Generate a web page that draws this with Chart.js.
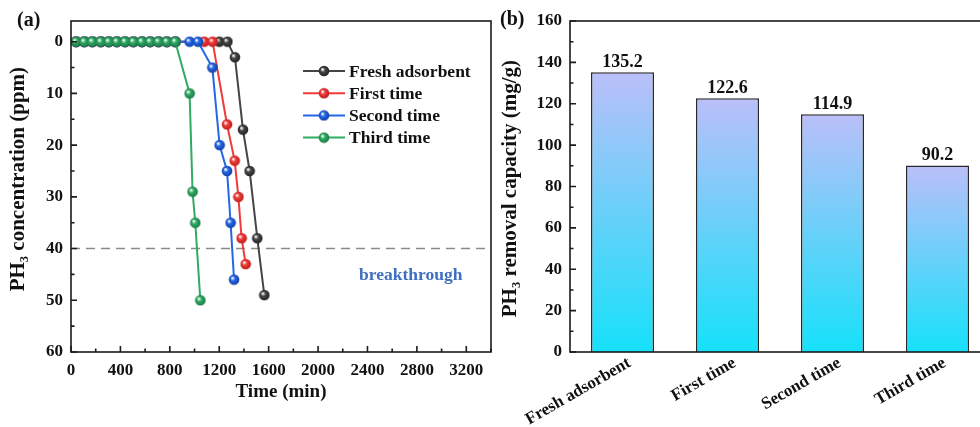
<!DOCTYPE html>
<html>
<head>
<meta charset="utf-8">
<script src="https://cdn.jsdelivr.net/npm/chart.js@4.4.1/dist/chart.umd.min.js"></script>
<style>
  html, body { margin: 0; padding: 0; background: #fff; }
  body { width: 980px; height: 427px; overflow: hidden; position: relative; }
  canvas { position: absolute; top: 0; }
  #chartA { left: 0; }
  #chartB { left: 495px; }
</style>
</head>
<body>
<canvas id="chartA" width="499" height="427"></canvas>
<canvas id="chartB" width="505" height="427"></canvas>
<script>
// panel (a) - breakthrough curves
const leadTime = [41, 108, 173, 241, 306, 371, 438, 505, 574, 641, 708, 776, 844];
const leadConc = [0, 0, 0, 0, 0, 0, 0, 0, 0, 0, 0, 0, 0];
const freshTime = [1201, 1266, 1327, 1392, 1446, 1508, 1565];
const freshConc = [0, 0, 3, 17, 25, 38, 49];
const firstTime = [1079, 1146, 1263, 1325, 1355, 1381, 1414];
const firstConc = [0, 0, 16, 23, 30, 38, 43];
const secondTime = [960, 1028, 1144, 1203, 1263, 1292, 1320];
const secondConc = [0, 0, 5, 20, 25, 35, 46];
const thirdTime = [960, 984, 1006, 1047];
const thirdConc = [10, 29, 35, 50];
const breakLevel = 40;

// panel (b) - removal capacity
const capLabels = ['Fresh adsorbent', 'First time', 'Second time', 'Third time'];
const capValues = [135.2, 122.6, 114.9, 90.2];

const serif = "'Liberation Serif', 'Times New Roman', serif";
const ink = '#111';
Chart.defaults.font.family = serif;
Chart.defaults.font.weight = 'bold';
Chart.defaults.color = ink;

function pts(t, c) {
  return t.map((x, i) => ({ x: x, y: c[i] }));
}

// little shaded ball used as the point marker
function ball(color, dark) {
  const c = document.createElement('canvas');
  c.width = 12; c.height = 12;
  const g = c.getContext('2d');
  const grad = g.createRadialGradient(4.3, 4.3, 0.4, 6, 6, 6);
  grad.addColorStop(0, '#ffffff');
  grad.addColorStop(0.35, color);
  grad.addColorStop(1, dark);
  g.fillStyle = grad;
  g.beginPath();
  g.arc(6, 6, 5.3, 0, Math.PI * 2);
  g.fill();
  return c;
}

const series = [
  { label: 'Fresh adsorbent', t: leadTime.concat(freshTime), c: leadConc.concat(freshConc), color: '#454545', dark: '#1e1e1e', order: 4 },
  { label: 'First time', t: leadTime.concat(firstTime), c: leadConc.concat(firstConc), color: '#f03a3a', dark: '#b51818', order: 3 },
  { label: 'Second time', t: leadTime.concat(secondTime), c: leadConc.concat(secondConc), color: '#2467e6', dark: '#10399a', order: 2 },
  { label: 'Third time', t: leadTime.concat(thirdTime), c: leadConc.concat(thirdConc), color: '#2fab62', dark: '#187040', order: 1 }
];

const lineSets = series.map(s => ({
  label: s.label,
  data: pts(s.t, s.c),
  borderColor: s.color,
  backgroundColor: s.color,
  borderWidth: 2,
  pointStyle: ball(s.color, s.dark),
  pointRadius: 6,
  order: s.order
}));
lineSets.push({
  label: 'limit',
  data: [{ x: 0, y: breakLevel }, { x: 3400, y: breakLevel }],
  borderColor: '#8a8a8a',
  borderWidth: 1.6,
  borderDash: [9, 6],
  pointRadius: 0,
  order: 9
});

// box round the plot plus inward ticks
const framePlugin = {
  id: 'frame',
  afterDraw(chart, args, opts) {
    const { ctx, chartArea: a, scales } = chart;
    ctx.save();
    ctx.strokeStyle = '#1b1b1b';
    ctx.lineWidth = 1.6;
    ctx.strokeRect(a.left, a.top, a.right - a.left, a.bottom - a.top);
    ctx.beginPath();
    if (opts.xStep) {
      for (let v = 0; v <= opts.xMax; v += opts.xStep) {
        const px = scales.x.getPixelForValue(v);
        const len = v % opts.xMajor === 0 ? 6 : 3.5;
        ctx.moveTo(px, a.bottom);
        ctx.lineTo(px, a.bottom - len);
      }
    }
    for (let v = 0; v <= opts.yMax; v += opts.yStep) {
      const py = scales.y.getPixelForValue(v);
      const len = v % opts.yMajor === 0 ? 6 : 3.5;
      ctx.moveTo(a.left, py);
      ctx.lineTo(a.left + len, py);
    }
    ctx.stroke();
    ctx.fillStyle = ink;
    ctx.font = 'bold 20px ' + serif;
    ctx.textBaseline = 'middle';
    ctx.textAlign = 'left';
    ctx.fillText(opts.tag, opts.tagX, opts.tagY);
    ctx.restore();
  }
};

const legendPlugin = {
  id: 'boxLegend',
  afterDraw(chart) {
    const { ctx } = chart;
    ctx.save();
    ctx.font = 'bold 17.5px ' + serif;
    ctx.textBaseline = 'middle';
    ctx.textAlign = 'left';
    series.forEach((s, i) => {
      const y = 71 + i * 22.2;
      ctx.strokeStyle = s.color;
      ctx.lineWidth = 2;
      ctx.beginPath();
      ctx.moveTo(303, y);
      ctx.lineTo(345, y);
      ctx.stroke();
      ctx.drawImage(lineSets[i].pointStyle, 318, y - 6);
      ctx.fillStyle = ink;
      ctx.fillText(s.label, 349, y + 1);
    });
    const x = chart.scales.x.getPixelForValue(2750);
    const y = chart.scales.y.getPixelForValue(45.3);
    ctx.fillStyle = '#3f6fbf';
    ctx.textAlign = 'center';
    ctx.fillText('breakthrough', x, y);
    ctx.restore();
  }
};

new Chart(document.getElementById('chartA'), {
  type: 'line',
  data: { datasets: lineSets },
  options: {
    responsive: false,
    animation: false,
    devicePixelRatio: 1,
    layout: { padding: { top: 21, right: 8, left: 0, bottom: 0 } },
    plugins: {
      legend: { display: false },
      tooltip: { enabled: false },
      frame: { xStep: 200, xMajor: 400, xMax: 3400, yStep: 5, yMajor: 10, yMax: 60, tag: '(a)', tagX: 17, tagY: 21 }
    },
    scales: {
      x: {
        type: 'linear', min: 0, max: 3400,
        grid: { display: false, drawTicks: false },
        border: { display: false },
        ticks: { stepSize: 400, includeBounds: false, autoSkip: false, maxRotation: 0, padding: 8,
          font: { size: 17, weight: 'bold' },
          callback: v => (v % 400 === 0 ? v : '') },
        title: { display: true, text: 'Time (min)', font: { size: 19, weight: 'bold' }, padding: { top: 0, bottom: 24 } },
        afterFit: s => { s.height = 75; }
      },
      y: {
        type: 'linear', reverse: true, min: -4, max: 60,
        grid: { display: false, drawTicks: false },
        border: { display: false },
        ticks: { stepSize: 10, includeBounds: false, padding: 8,
          font: { size: 17, weight: 'bold' },
          callback: v => (v >= 0 ? v : '') },
        title: { display: true, text: '\u2002\u2009PH₃ concentration (ppm)', font: { size: 21, weight: 'bold' }, padding: { top: 6, bottom: 0 } },
        afterFit: s => { s.width = 71; }
      }
    }
  },
  plugins: [framePlugin, legendPlugin]
});

const valuePlugin = {
  id: 'barValues',
  afterDatasetsDraw(chart) {
    const { ctx } = chart;
    const meta = chart.getDatasetMeta(0);
    ctx.save();
    ctx.font = 'bold 18px ' + serif;
    ctx.fillStyle = ink;
    ctx.textAlign = 'center';
    ctx.textBaseline = 'bottom';
    meta.data.forEach((bar, i) => {
      ctx.fillText(capValues[i].toFixed(1), bar.x, bar.y - 1);
    });
    ctx.restore();
  }
};

new Chart(document.getElementById('chartB'), {
  type: 'bar',
  data: {
    labels: capLabels,
    datasets: [{
      data: capValues,
      backgroundColor: c => {
        const ch = c.chart;
        if (!ch.chartArea || c.raw === undefined) return '#8fd0fa';
        const top = ch.scales.y.getPixelForValue(c.raw);
        const g = ch.ctx.createLinearGradient(0, top, 0, ch.chartArea.bottom);
        g.addColorStop(0, '#bbbff9');
        g.addColorStop(1, '#16e1fa');
        return g;
      },
      borderColor: '#2a2a2a',
      borderWidth: 1.5,
      categoryPercentage: 1,
      barPercentage: 0.6
    }]
  },
  options: {
    responsive: false,
    animation: false,
    devicePixelRatio: 1,
    layout: { padding: { top: 21, right: 10, left: 0, bottom: 0 } },
    plugins: {
      legend: { display: false },
      tooltip: { enabled: false },
      frame: { xStep: 0, yStep: 10, yMajor: 20, yMax: 160, tag: '(b)', tagX: 5, tagY: 20 }
    },
    scales: {
      x: {
        grid: { display: false, drawTicks: false },
        border: { display: false },
        ticks: { minRotation: 30, maxRotation: 30, autoSkip: false, padding: 1, labelOffset: 7,
          font: { size: 17, weight: 'bold' } },
        afterFit: s => { s.height = 75; }
      },
      y: {
        min: 0, max: 160,
        grid: { display: false, drawTicks: false },
        border: { display: false },
        ticks: { stepSize: 20, padding: 8, font: { size: 17, weight: 'bold' } },
        title: { display: true, text: 'PH₃ removal capacity (mg/g)\u2009', font: { size: 21, weight: 'bold' }, padding: { top: 3, bottom: 0 } },
        afterFit: s => { s.width = 75; }
      }
    }
  },
  plugins: [framePlugin, valuePlugin]
});
</script>
</body>
</html>
